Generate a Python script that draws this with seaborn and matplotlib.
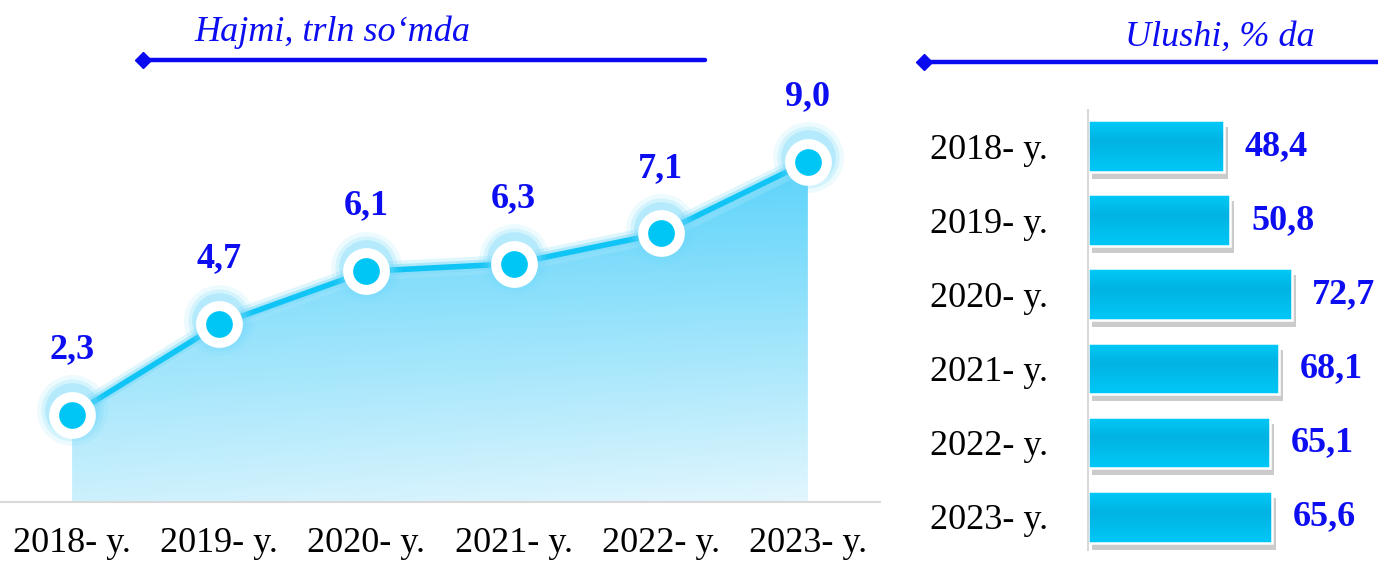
import numpy as np
import pandas as pd
import matplotlib
matplotlib.use("Agg")
import matplotlib.pyplot as plt
import matplotlib.patheffects as pe
from matplotlib.lines import Line2D
from matplotlib.patches import Rectangle
from matplotlib.colors import to_rgb
import seaborn as sns

sns.set_theme(style="white")
plt.rcParams["font.family"] = ["Liberation Serif", "DejaVu Serif"]

# data
years = ["2018- y.", "2019- y.", "2020- y.", "2021- y.", "2022- y.", "2023- y."]
volume = [2.3, 4.7, 6.1, 6.3, 7.1, 9.0]      # Hajmi, trln so'mda
share = [48.4, 50.8, 72.7, 68.1, 65.1, 65.6]  # Ulushi, % da

left_title = "Hajmi, trln so\u2018mda"
right_title = "Ulushi, % da"

BLUE = "#0d0df2"
CYAN = "#00c6f6"
LINE = "#10c4f5"


def fmt(v):
    return f"{v:.1f}".replace(".", ",")


def gradient(c_top, c_bot, n=256):
    t = np.linspace(0, 1, n)[:, None]
    a, b = np.array(to_rgb(c_top)), np.array(to_rgb(c_bot))
    return a * (1 - t[..., None]) + b * t[..., None]


fig = plt.figure(figsize=(13.78, 5.62), dpi=100)

# ---- left: area/line chart
ax = fig.add_axes([0.0, 0.1068, 0.6386, 0.7153])
df = pd.DataFrame({"pos": np.arange(len(years)), "value": volume})

poly = ax.fill_between(df["pos"], df["value"], 0, color="none", lw=0)
top_c = np.array(to_rgb("#45cdf9"))
bot_c = np.array(to_rgb("#ecf9fe"))
yy = np.linspace(1, 0, 256)[:, None]
xx = np.linspace(0, 1, 64)[None, :]
t = np.clip(yy * 0.85 + (1 - xx) * 0.15 * (1 - yy) + 0.05, 0, 1)
img = bot_c[None, None, :] * (1 - t[..., None]) + top_c[None, None, :] * t[..., None]
im = ax.imshow(img, extent=[-0.49, 5.49, 0, 9.3], aspect="auto", origin="upper", zorder=1)
im.set_clip_path(poly.get_paths()[0], transform=ax.transData)

sns.lineplot(data=df, x="pos", y="value", ax=ax, color=LINE, lw=4, zorder=3,
             path_effects=[pe.Stroke(linewidth=13, foreground="#a6e7fc", alpha=0.35),
                           pe.Stroke(linewidth=8, foreground="#7fdcfa", alpha=0.5),
                           pe.Normal()])
for s_, a_ in [(2600, 0.12), (2000, 0.2), (1550, 0.3)]:
    ax.scatter(df["pos"], df["value"] + 0.12, s=s_, color="#6fd8fb", alpha=a_, lw=0, zorder=4)
ax.scatter(df["pos"], df["value"], s=700, color=CYAN, edgecolor="white", lw=7.2, zorder=5)

for i, v in enumerate(volume):
    ax.annotate(fmt(v), (i, v), xytext=(0, 47), textcoords="offset points",
                ha="center", va="center", fontsize=26, fontweight="bold", color=BLUE,
                annotation_clip=False)

ax.set_xlim(-0.49, 5.49)
ax.set_ylim(0, 10.63)
ax.set_xticks(range(len(years)))
ax.set_xticklabels(years, fontsize=26, color="black")
ax.set_yticks([])
ax.set_xlabel("")
ax.set_ylabel("")
ax.tick_params(axis="x", length=0, pad=18)
for s in ["top", "left", "right"]:
    ax.spines[s].set_visible(False)
ax.spines["bottom"].set_color("#d9d9d9")
ax.spines["bottom"].set_linewidth(1.5)
ax.patch.set_alpha(0)

# ---- right: horizontal bars
bx = fig.add_axes([0.7896, 0.0214, 0.2104, 0.7829])
bdf = pd.DataFrame({"year": years, "share": share})
sns.barplot(data=bdf, x="share", y="year", orient="h", ax=bx, color=CYAN,
            width=0.7, linewidth=0, saturation=1)
bar_img = np.concatenate([gradient("#00cbfa", "#00b3e2", 40), gradient("#00b3e2", "#00c8f8", 60)])
for p in list(bx.patches):
    p.set_path_effects([pe.SimplePatchShadow(offset=(3, -5), shadow_rgbFace="#555555", alpha=0.3),
                        pe.Normal()])
    x0, y0, w, h = p.get_x(), p.get_y(), p.get_width(), p.get_height()
    gi = bx.imshow(bar_img, extent=[x0, x0 + w, y0 + h, y0], aspect="auto",
                   origin="upper", zorder=p.get_zorder() + 0.1)
    gi.set_clip_path(p)
    bx.add_patch(Rectangle((x0, y0), w, h, fill=False, edgecolor="white", lw=1.8,
                           zorder=p.get_zorder() + 0.2))
for i, v in enumerate(share):
    bx.annotate(fmt(v), (v, i), xytext=(15, 0), textcoords="offset points",
                ha="left", va="center", fontsize=26, fontweight="bold", color=BLUE,
                annotation_clip=False)

bx.set_xlim(0, 103.6)
bx.set_ylim(5.45, -0.49)
bx.set_xticks([])
bx.set_xlabel("")
bx.set_ylabel("")
bx.tick_params(axis="y", length=0, pad=29, labelsize=26, labelcolor="black")
for s in ["top", "bottom", "right"]:
    bx.spines[s].set_visible(False)
bx.spines["left"].set_color("#d9d9d9")
bx.spines["left"].set_linewidth(1.5)
bx.patch.set_alpha(0)

# ---- headers with arrow lines
H = 562.0
W = 1378.0
fig.text(332 / W, 1 - 32 / H, left_title, ha="center", va="center",
         fontsize=26, style="italic", color=BLUE)
fig.text(1220 / W, 1 - 37 / H, right_title, ha="center", va="center",
         fontsize=26, style="italic", color=BLUE)
for x0, x1, y in [(143, 705, 60), (924, 1378, 62)]:
    fig.add_artist(Line2D([x0 / W, x1 / W], [1 - y / H, 1 - y / H], transform=fig.transFigure,
                          color="#0a0af0", lw=3.2, marker="D", markersize=8, markevery=[0]))

fig.savefig("out.png", dpi=100)
